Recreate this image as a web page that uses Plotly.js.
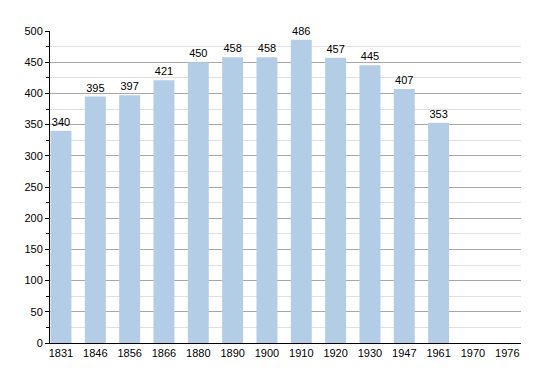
<!DOCTYPE html>
<html><head><meta charset="utf-8">
<script src="https://cdn.plot.ly/plotly-3.0.1.min.js"></script>
<style>html,body{margin:0;padding:0;background:#fff}#chart{width:550px;height:373px}</style>
</head><body><div id="chart"></div>
<script>
const years = ['1831','1846','1856','1866','1880','1890','1900','1910','1920','1930','1947','1961','1970','1976'];
const population = [340,395,397,421,450,458,458,486,457,445,407,353,null,null];
const labels = population.map(v => v === null ? '' : String(v));

Plotly.newPlot('chart', [{
  type: 'bar', x: years, y: population, text: labels,
  textposition: 'outside', cliponaxis: false,
  textfont: {family: 'Liberation Sans, Arial, sans-serif', size: 11, color: '#000'},
  marker: {color: '#b3cde6'}, hoverinfo: 'none'
}], {
  width: 550, height: 373,
  margin: {l: 50, r: 29, t: 31, b: 30},
  paper_bgcolor: '#fff', plot_bgcolor: '#fff',
  bargap: 0.39, showlegend: false,
  font: {family: 'Liberation Sans, Arial, sans-serif', size: 11, color: '#000'},
  xaxis: {type: 'category', range: [-0.32, 13.4], showline: true, linecolor: '#000', linewidth: 1,
    ticks: '', showgrid: false, zeroline: false, fixedrange: true},
  yaxis: {range: [0, 500], dtick: 50, showline: true, linecolor: '#000', linewidth: 1,
    ticks: 'outside', ticklen: 4, tickcolor: '#000', gridcolor: '#a8a8a8', gridwidth: 1,
    zeroline: false, fixedrange: true,
    minor: {dtick: 25, showgrid: true, gridcolor: '#e0e0e0', ticks: 'outside', ticklen: 3, tickcolor: '#000'}}
}, {displayModeBar: false, staticPlot: true});
</script></body></html>
